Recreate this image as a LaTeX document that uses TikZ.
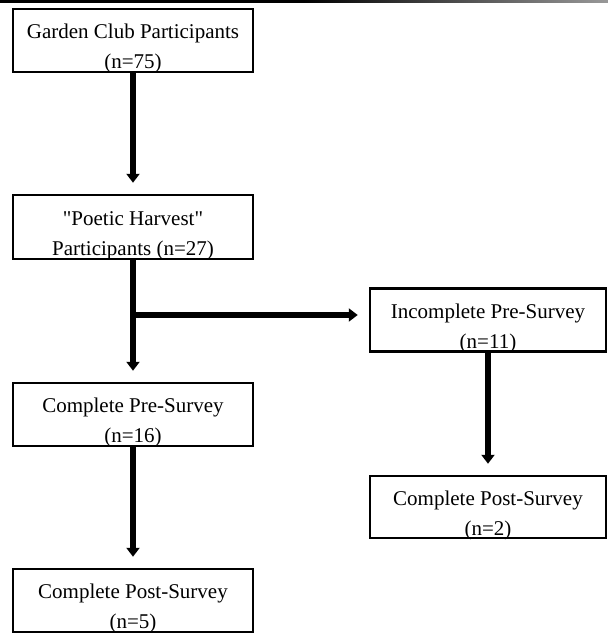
\documentclass[tikz,border=0pt]{standalone}
\usepackage{fontspec}
\setmainfont{Liberation Serif}
\usetikzlibrary{arrows.meta, positioning}

% two-line box text, set a little low in its box
\newcommand{\boxtext}[2]{\raisebox{-7pt}[\height][\depth]{\begin{tabular}{@{}c@{}}#1\\#2\end{tabular}}}

\begin{document}
\begin{tikzpicture}[
  x=1pt, y=-1pt,
  fbox/.style={draw, line width=2.5pt, minimum width=240pt, minimum height=63pt, inner sep=0pt, font=\fontsize{21}{30}\selectfont},
  arr/.style={line width=6pt, -{Triangle[width=13pt,length=9pt]}, shorten >=11pt}
]
  \useasboundingbox (0,0) rectangle (608,633);
  \shade[left color=black, right color=black!40, middle color=black] (0,0) rectangle (608,2);

  \node[fbox] (garden) at (133, 40.5) {\boxtext{Garden Club Participants}{(n=75)}};
  \node[fbox, minimum height=64pt] (harvest) at (133, 227) {\boxtext{\textquotedbl Poetic Harvest\textquotedbl}{Participants (n=27)}};
  \node[fbox] (prelft) at (133, 414.5) {\boxtext{Complete Pre-Survey}{(n=16)}};
  \node[fbox] (postlft) at (133, 600.5) {\boxtext{Complete Post-Survey}{(n=5)}};

  \node[fbox, minimum width=236pt] (incpre) at (488, 320) {\boxtext{Incomplete Pre-Survey}{(n=11)}};
  \node[fbox, minimum width=236pt, minimum height=62pt] (postrgt) at (488, 507) {\boxtext{Complete Post-Survey}{(n=2)}};

  \coordinate (split) at (133, 315);

  \draw[arr] (garden.south) -- (harvest.north);
  \draw[arr] (harvest.south) -- (prelft.north);
  \draw[arr] (split) -- (split -| incpre.west);
  \draw[arr] (prelft.south) -- (postlft.north);
  \draw[arr] (incpre.south) -- (postrgt.north);
\end{tikzpicture}
\end{document}
